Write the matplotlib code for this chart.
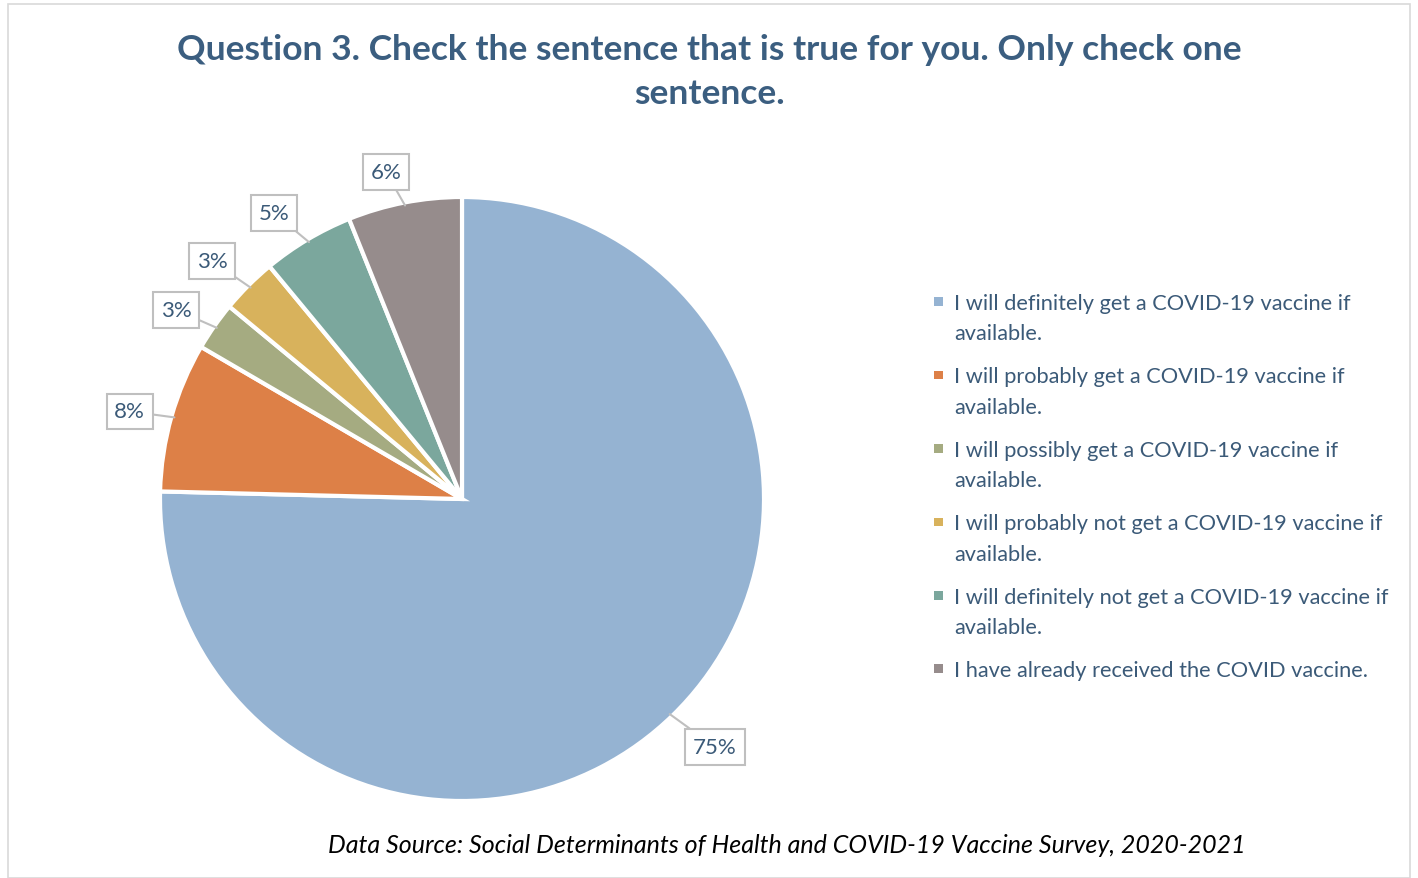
import numpy as np
import matplotlib.pyplot as plt
from matplotlib.patches import Rectangle
from matplotlib.legend_handler import HandlerPatch

# survey answers (percent)
answers = [
    "I will definitely get a COVID-19 vaccine if\navailable.",
    "I will probably get a COVID-19 vaccine if\navailable.",
    "I will possibly get a COVID-19 vaccine if\navailable.",
    "I will probably not get a COVID-19 vaccine if\navailable.",
    "I will definitely not get a COVID-19 vaccine if\navailable.",
    "I have already received the COVID vaccine.",
]
shares = [75.4, 8.0, 2.6, 3.0, 4.9, 6.1]
pct_labels = ["75%", "8%", "3%", "3%", "5%", "6%"]
colors = ["#95B3D2", "#DD8047", "#A5AB81", "#D8B25C", "#7BA79D", "#968C8C"]

# callout box positions (data coords, pie radius = 1)
box_xy = [(0.838, -0.821), (-1.10, 0.29), (-0.947, 0.626), (-0.828, 0.788),
          (-0.623, 0.947), (-0.252, 1.083)]

plt.rcParams["font.family"] = ["Lato", "DejaVu Sans"]
text_col = "#3B5A78"

fig = plt.figure(figsize=(14.18, 8.79), dpi=100)
fig.patches.append(Rectangle((8 / 1418, 0), 1402 / 1418, 874 / 879, transform=fig.transFigure,
                             fill=False, edgecolor="#D9D9D9", lw=1.2))

ax = fig.add_axes([160 / 1418, 77 / 879, 604 / 1418, 604 / 879])
wedges, _ = ax.pie(shares, colors=colors, startangle=90, counterclock=False,
                   wedgeprops=dict(edgecolor="white", linewidth=3))
ax.set_xlim(-1, 1)
ax.set_ylim(-1, 1)
ax.set_aspect("equal")

cum = np.cumsum([0] + shares)
for i, (lab, (bx, by)) in enumerate(zip(pct_labels, box_xy)):
    mid = 90 - (cum[i] + shares[i] / 2) / 100 * 360
    if i == 0:
        mid = -46
    px, py = np.cos(np.radians(mid)) * 0.99, np.sin(np.radians(mid)) * 0.99
    ax.annotate(lab, xy=(px, py), xytext=(bx, by), ha="center", va="center",
                fontsize=16, color=text_col,
                bbox=dict(boxstyle="square,pad=0.35", fc="white", ec="#BFBFBF", lw=1.5),
                arrowprops=dict(arrowstyle="-", color="#BFBFBF", lw=1.5, shrinkA=0, shrinkB=0),
                annotation_clip=False)


# legend squares sit on the first text line, like the original
def top_square(legend, orig_handle, xdescent, ydescent, width, height, fontsize):
    idx = wedges.index(orig_handle)
    shift = 12.0 if "\n" in answers[idx] else 0.0
    s = 6.0
    return Rectangle((-xdescent + (width - s) / 2, -ydescent + (height - s) / 2 + shift), s, s)


leg = fig.legend(wedges, answers, loc="upper left", bbox_to_anchor=(925 / 1418, 1 - 285 / 879),
                 frameon=False, fontsize=15.7, handlelength=0.45, handleheight=0.45,
                 handletextpad=0.5, labelspacing=1.06, borderaxespad=0,
                 handler_map={w: HandlerPatch(patch_func=top_square) for w in wedges})
for t in leg.get_texts():
    t.set_color(text_col)
    t.set_linespacing(1.65)
for h in leg.legend_handles:
    h.set_edgecolor("none")

fig.text(0.5, 1 - 72 / 879, "Question 3. Check the sentence that is true for you. Only check one\nsentence.",
         ha="center", va="center", fontsize=25.5, fontweight="bold", color="#3B5E80",
         linespacing=1.5)
fig.text(787 / 1418, 1 - 846 / 879,
         "Data Source: Social Determinants of Health and COVID-19 Vaccine Survey, 2020-2021",
         ha="center", va="center", fontsize=18, style="italic", color="black")

fig.savefig("out.png", dpi=100)
